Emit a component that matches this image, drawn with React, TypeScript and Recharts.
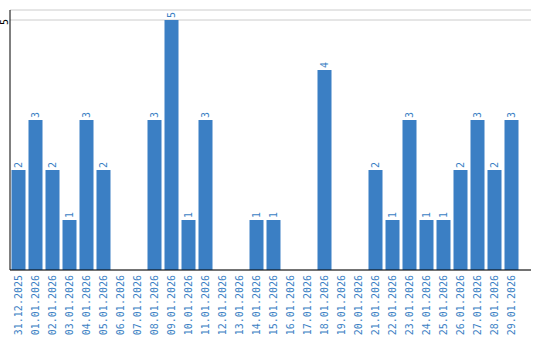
import React from 'react';
import { BarChart, Bar, XAxis, YAxis, CartesianGrid, LabelList } from 'recharts';

const dates = [
  '31.12.2025', '01.01.2026', '02.01.2026', '03.01.2026', '04.01.2026', '05.01.2026',
  '06.01.2026', '07.01.2026', '08.01.2026', '09.01.2026', '10.01.2026', '11.01.2026',
  '12.01.2026', '13.01.2026', '14.01.2026', '15.01.2026', '16.01.2026', '17.01.2026',
  '18.01.2026', '19.01.2026', '20.01.2026', '21.01.2026', '22.01.2026', '23.01.2026',
  '24.01.2026', '25.01.2026', '26.01.2026', '27.01.2026', '28.01.2026', '29.01.2026',
];
const counts = [2, 3, 2, 1, 3, 2, 0, 0, 3, 5, 1, 3, 0, 0, 1, 1, 0, 0, 4, 0, 0, 2, 1, 3, 1, 1, 2, 3, 2, 3];
const yTicks = [5];

const BLUE = '#3b7fc4';
const FONT = '"DejaVu Sans Mono", monospace';

const data = dates.map((d, i) => ({ date: d, count: counts[i] }));

const DateTick = ({ x, payload }: any) => (
  <g transform={`translate(${x},275) rotate(-90)`}>
    <text x={0} y={0} dy="0.35em" textAnchor="end" fill={BLUE} fontSize={10} fontFamily={FONT}>
      {payload.value}
    </text>
  </g>
);

const ValueTick = ({ y, payload }: any) => (
  <g transform={`translate(4.5,${y + 2}) rotate(-90)`}>
    <text x={0} y={0} dy="0.35em" textAnchor="middle" fill="#000" fontSize={10} fontFamily={FONT}>
      {payload.value}
    </text>
  </g>
);

const BarLabel = ({ x, y, width, value }: any) => {
  if (!value) return null;
  return (
    <g transform={`translate(${x + width / 2},${y - 2}) rotate(-90)`}>
      <text x={0} y={0} dy="0.35em" textAnchor="start" fill={BLUE} fontSize={10} fontFamily={FONT}>
        {value}
      </text>
    </g>
  );
};

export default function App() {
  return (
    <div style={{ position: 'absolute', left: 0, top: 0, width: 540, height: 340, background: '#fff' }}>
      <BarChart width={540} height={340} data={data} margin={{ top: 10, right: 9, bottom: 0, left: 0 }} barCategoryGap={1.5}>
        <CartesianGrid vertical={false} stroke="#cccccc" />
        <XAxis
          dataKey="date"
          interval={0}
          height={70}
          tickLine={false}
          axisLine={{ stroke: '#000' }}
          padding={{ left: 0, right: 11 }}
          tick={<DateTick />}
        />
        <YAxis
          width={10}
          domain={[0, 5.2]}
          ticks={yTicks}
          tickLine={false}
          axisLine={{ stroke: '#000' }}
          tick={<ValueTick />}
        />
        <Bar dataKey="count" fill={BLUE} isAnimationActive={false}>
          <LabelList dataKey="count" content={<BarLabel />} />
        </Bar>
      </BarChart>
    </div>
  );
}
